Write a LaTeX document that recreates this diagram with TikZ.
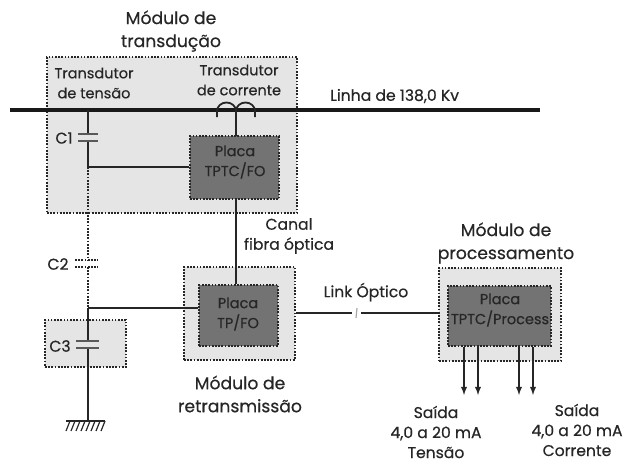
\documentclass[tikz,border=0pt]{standalone}
\usepackage{fontspec}
\setmainfont{Poppins}[FakeBold=0.5]
\tikzset{
  modulo/.style={draw=black!85, fill=black!10, line width=1.7pt, dash pattern=on 1.7pt off 1.5pt, inner sep=0pt},
  placa/.style={draw=black!85, fill=black!55, line width=1.7pt, dash pattern=on 1.7pt off 1.5pt, inner sep=0pt},
  rotulo/.style={align=center, font=\fontsize{14.5}{20}\selectfont, text=black!85, inner sep=0pt},
  legenda/.style={align=center, font=\fontsize{15.6}{20}\selectfont, text=black!85, inner sep=0pt},
  titulo/.style={align=center, font=\fontsize{17.2}{23}\selectfont, text=black!85, inner sep=0pt},
  fio/.style={line width=1.8pt, black!85},
  fiopont/.style={line width=1.7pt, black!85, dash pattern=on 1.7pt off 1.5pt},
  armadura/.style={line width=1.7pt, black!65},
}
\begin{document}
\begin{tikzpicture}[x=1pt,y=-1pt]

  \useasboundingbox (0,0) rectangle (634,463);

  % modulos
  \node[modulo, minimum width=250pt, minimum height=156pt] (transducao) at (172,135) {};
  \node[modulo, minimum width=111pt, minimum height=93pt] (retrans) at (239.5,313.5) {};
  \node[modulo, minimum width=122pt, minimum height=93pt] (process) at (500,314.5) {};
  \node[modulo, minimum width=81pt, minimum height=47pt] (moduloC3) at (85.5,343.5) {};

  % placas
  \node[placa, minimum width=89pt, minimum height=63pt] (placaFO) at (234.5,167.5) {};
  \node[placa, minimum width=79pt, minimum height=61pt] (placaTP) at (238.5,315.5) {};
  \node[placa, minimum width=103pt, minimum height=60pt] (placaProc) at (499.5,316) {};

  % pontos da linha
  \coordinate (linhaA) at (10,110);
  \coordinate (linhaB) at (540,110);
  \coordinate (tapC1) at (88,110);
  \coordinate (tapTC) at (236,110);
  \coordinate (C1a) at (88,134);
  \coordinate (C1b) at (88,141);
  \coordinate (juncao) at (88,167);
  \coordinate (C2a) at (88,260);
  \coordinate (C2b) at (88,267);
  \coordinate (canto) at (88,308);
  \coordinate (C3a) at (88,341);
  \coordinate (C3b) at (88,348);
  \coordinate (terra) at (88,421);
  \coordinate (quebraA) at (352,313);
  \coordinate (quebraB) at (361,313);

  \draw[line width=3.8pt, black!90] (linhaA) -- (linhaB);

  % ramo de tensao
  \draw[fio] (tapC1) -- (C1a);
  \draw[fio] (C1b) -- (juncao);
  \draw[fio] (juncao) -- (juncao -| placaFO.west);
  \draw[fiopont] (juncao) -- (C2a);
  \draw[fiopont] (C2b) -- (canto);
  \draw[fio] (canto) -- (canto -| placaTP.west);
  \draw[fio] (canto) -- (C3a);
  \draw[fio] (C3b) -- (terra);

  % capacitores
  \draw[armadura] (78,134) -- (98,134);
  \draw[armadura] (78,141) -- (98,141);
  \draw[fiopont] (75,260) -- (98,260);
  \draw[fiopont] (75,267) -- (98,267);
  \draw[armadura] (76,341) -- (99,341);
  \draw[armadura] (76,348) -- (99,348);

  % terra
  \draw[fio] (66,421) -- (105,421);
  \foreach \x in {68,73,...,103} {
    \draw[line width=1.2pt, black!85] (\x+2,421) -- (\x-2,431);
  }

  % transdutor de corrente
  \draw[fio] (tapTC) -- (236,136);
  \draw[fio] (217,117) -- (217,111) arc (180:360:9.5 and 8.5) arc (180:360:9.5 and 8.5) -- (255,117);

  % canal e link
  \draw[fio] (placaFO.south -| tapTC) -- (placaTP.north -| tapTC);
  \draw[fio] (retrans.east |- quebraA) -- (quebraA);
  \draw[fio] (quebraB) -- (process.west |- quebraB);
  \draw[line width=1.2pt, black!35] (357,308) -- (356,318);

  % saidas
  \foreach \x/\nome in {464/sa,478/sb,519/sc,533/sd} {
    \coordinate (\nome) at (\x,395);
    \draw[fio, -latex] (placaProc.south -| \nome) -- (\nome);
  }

  % textos
  \node[titulo] (tTransducao) at (171,31) {Módulo de\\transdução};
  \node[titulo] (tRetrans) at (240,394) {Módulo de\\retransmissão};
  \node[titulo] (tProcess) at (506,243) {Módulo de\\processamento};
  \node[rotulo] (tTensao) at (94,83) {Transdutor\\de tensão};
  \node[rotulo] (tCorrente) at (239,80) {Transdutor\\de corrente};
  \node[legenda, anchor=west] (tLinha) at (330,96) {Linha de 138,0 Kv};
  \node[legenda] (tC1) at (64,138) {C1};
  \node[legenda] (tC2) at (58,264) {C2};
  \node[legenda] (tC3) at (60,346) {C3};
  \node[rotulo] (tPlacaFO) at (235,162) {Placa\\TPTC/FO};
  \node[rotulo] (tPlacaTP) at (238,314) {Placa\\TP/FO};
  \node[rotulo] (tPlacaProc) at (500,310) {Placa\\TPTC/Process};
  \node[legenda] (tCanal) at (289,236) {Canal\\fibra óptica};
  \node[legenda] (tLink) at (366,292) {Link Óptico};
  \node[legenda] (tSaidaV) at (436,432) {Saída\\4,0 a 20 mA\\Tensão};
  \node[legenda] (tSaidaI) at (577,430) {Saída\\4,0 a 20 mA\\Corrente};

\end{tikzpicture}
\end{document}
